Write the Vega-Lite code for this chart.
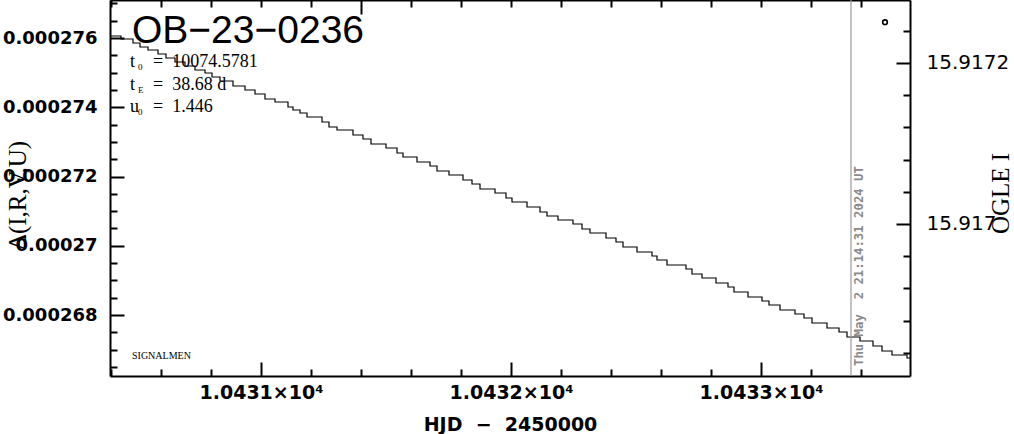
{
  "$schema": "https://vega.github.io/schema/vega-lite/v6.json",
  "width": 800,
  "height": 376,
  "autosize": {"type": "none"},
  "padding": {"left": 110, "top": 0, "right": 104, "bottom": 58},
  "background": "white",
  "config": {
    "view": {"stroke": null},
    "axis": {"grid": false, "labelOverlap": false, "labelFlush": false, "labelBound": false, "domainColor": "black", "domainWidth": 2, "tickColor": "black", "tickWidth": 2, "labelColor": "black", "titleColor": "black"}
  },
  "datasets": {
    "params": [
      {"hjd": 10430.476, "d": 0.0002751626, "sym": "t", "sub": "0", "txt": "=\u00a0 10074.5781"},
      {"hjd": 10430.476, "d": 0.0002744983, "sym": "t", "sub": "E", "txt": "=\u00a0 38.68\u00a0d"},
      {"hjd": 10430.476, "d": 0.0002738629, "sym": "u", "sub": "0", "txt": "=\u00a0 1.446"}
    ]
  },
  "resolve": {"scale": {"x": "independent", "y": "independent"}, "axis": {"x": "independent", "y": "independent"}},
  "layer": [
    {
      "data": {"values": [
        {"hjd": 10430.396, "d": 0.0002760578}, {"hjd": 10430.440, "d": 0.0002759712}, {"hjd": 10430.488, "d": 0.0002758557},
        {"hjd": 10430.516, "d": 0.0002757401}, {"hjd": 10430.548, "d": 0.0002756535}, {"hjd": 10430.588, "d": 0.0002755380},
        {"hjd": 10430.620, "d": 0.0002754225}, {"hjd": 10430.656, "d": 0.0002753069}, {"hjd": 10430.696, "d": 0.0002751914},
        {"hjd": 10430.736, "d": 0.0002750759}, {"hjd": 10430.776, "d": 0.0002749893}, {"hjd": 10430.804, "d": 0.0002748737},
        {"hjd": 10430.836, "d": 0.0002747582}, {"hjd": 10430.888, "d": 0.0002746138}, {"hjd": 10430.936, "d": 0.0002744983},
        {"hjd": 10430.976, "d": 0.0002743828}, {"hjd": 10431.016, "d": 0.0002742384}, {"hjd": 10431.056, "d": 0.0002741517},
        {"hjd": 10431.108, "d": 0.0002740073}, {"hjd": 10431.128, "d": 0.0002739207}, {"hjd": 10431.156, "d": 0.0002738341},
        {"hjd": 10431.184, "d": 0.0002737185}, {"hjd": 10431.244, "d": 0.0002735741}, {"hjd": 10431.272, "d": 0.0002734297},
        {"hjd": 10431.304, "d": 0.0002733431}, {"hjd": 10431.368, "d": 0.0002731987}, {"hjd": 10431.408, "d": 0.0002730832},
        {"hjd": 10431.440, "d": 0.0002729388}, {"hjd": 10431.500, "d": 0.0002728233}, {"hjd": 10431.544, "d": 0.0002726789},
        {"hjd": 10431.568, "d": 0.0002725633}, {"hjd": 10431.624, "d": 0.0002724189}, {"hjd": 10431.676, "d": 0.0002723034},
        {"hjd": 10431.704, "d": 0.0002721590}, {"hjd": 10431.752, "d": 0.0002720435}, {"hjd": 10431.808, "d": 0.0002718991},
        {"hjd": 10431.844, "d": 0.0002717836}, {"hjd": 10431.876, "d": 0.0002716392}, {"hjd": 10431.936, "d": 0.0002715237},
        {"hjd": 10431.980, "d": 0.0002713793}, {"hjd": 10432.004, "d": 0.0002712637}, {"hjd": 10432.064, "d": 0.0002711193},
        {"hjd": 10432.116, "d": 0.0002709749}, {"hjd": 10432.144, "d": 0.0002708594}, {"hjd": 10432.188, "d": 0.0002707439},
        {"hjd": 10432.248, "d": 0.0002706284}, {"hjd": 10432.284, "d": 0.0002704840}, {"hjd": 10432.316, "d": 0.0002703685},
        {"hjd": 10432.380, "d": 0.0002702241}, {"hjd": 10432.420, "d": 0.0002701085}, {"hjd": 10432.448, "d": 0.0002699641},
        {"hjd": 10432.504, "d": 0.0002698197}, {"hjd": 10432.564, "d": 0.0002697042}, {"hjd": 10432.584, "d": 0.0002695887},
        {"hjd": 10432.624, "d": 0.0002694443}, {"hjd": 10432.700, "d": 0.0002693288}, {"hjd": 10432.724, "d": 0.0002691844},
        {"hjd": 10432.764, "d": 0.0002690689}, {"hjd": 10432.820, "d": 0.0002689245}, {"hjd": 10432.868, "d": 0.0002688089},
        {"hjd": 10432.892, "d": 0.0002686645}, {"hjd": 10432.948, "d": 0.0002685201}, {"hjd": 10433.004, "d": 0.0002684046},
        {"hjd": 10433.032, "d": 0.0002682891}, {"hjd": 10433.076, "d": 0.0002681447}, {"hjd": 10433.136, "d": 0.0002680292},
        {"hjd": 10433.172, "d": 0.0002679137}, {"hjd": 10433.204, "d": 0.0002677693}, {"hjd": 10433.264, "d": 0.0002676249},
        {"hjd": 10433.312, "d": 0.0002675093}, {"hjd": 10433.344, "d": 0.0002673649}, {"hjd": 10433.396, "d": 0.0002672494},
        {"hjd": 10433.448, "d": 0.0002671050}, {"hjd": 10433.484, "d": 0.0002669606}, {"hjd": 10433.524, "d": 0.0002668451},
        {"hjd": 10433.584, "d": 0.0002667585}, {"hjd": 10433.596, "d": 0.0002667585}
      ]},
      "mark": {"type": "line", "interpolate": "step-after", "color": "black", "strokeWidth": 1.2, "clip": true},
      "encoding": {
        "x": {
          "field": "hjd", "type": "quantitative",
          "scale": {"domain": [10430.396, 10433.596], "nice": false, "zero": false},
          "axis": {
            "orient": "bottom",
            "values": [10430.4, 10430.6, 10430.8, 10431, 10431.2, 10431.4, 10431.6, 10431.8, 10432, 10432.2, 10432.4, 10432.6, 10432.8, 10433, 10433.2, 10433.4],
            "tickSize": {"condition": {"test": "abs(datum.value - round(datum.value)) < 0.001", "value": -14}, "value": -7},
            "labelExpr": "abs(datum.value - round(datum.value)) < 0.001 ? format(datum.value/10000, '.4f') + '×10⁴' : ''",
            "labelFont": "DejaVu Sans", "labelFontWeight": "bold", "labelFontSize": 19, "labelPadding": 21,
            "title": "HJD\u00a0 −\u00a0 2450000", "titleFont": "DejaVu Sans", "titleFontWeight": "bold", "titleFontSize": 19,
            "titleX": 400, "titleY": 54, "titleBaseline": "alphabetic", "titleAlign": "center"
          }
        },
        "y": {
          "field": "d", "type": "quantitative",
          "scale": {"domain": [0.0002662386, 0.0002770975], "nice": false, "zero": false},
          "axis": {
            "orient": "left",
            "values": [0.0002665, 0.000267, 0.0002675, 0.000268, 0.0002685, 0.000269, 0.0002695, 0.00027, 0.0002705, 0.000271, 0.0002715, 0.000272, 0.0002725, 0.000273, 0.0002735, 0.000274, 0.0002745, 0.000275, 0.0002755, 0.000276, 0.0002765, 0.000277],
            "tickSize": {"condition": {"test": "abs(datum.value*500000 - round(datum.value*500000)) < 0.01", "value": -14}, "value": -7},
            "labelExpr": "abs(datum.value*500000 - round(datum.value*500000)) < 0.01 ? format(datum.value, '.6~f') : ''",
            "labelFont": "DejaVu Sans", "labelFontWeight": "bold", "labelFontSize": 18, "labelPadding": 27,
            "title": "Δ(I,R,V,U)", "titleFont": "Liberation Serif", "titleFontWeight": "normal", "titleFontSize": 25,
            "titleX": -93, "titleY": 195, "titleAngle": 270, "titleAlign": "center", "titleBaseline": "middle"
          }
        }
      }
    },
    {
      "data": {"values": [{"hjd": 10433.36}]},
      "mark": {"type": "rule", "color": "#9a9a9a", "strokeWidth": 1.2},
      "encoding": {
        "x": {"field": "hjd", "type": "quantitative", "scale": {"domain": [10430.396, 10433.596], "nice": false, "zero": false}, "axis": null}
      }
    },
    {
      "data": {"values": [{"hjd": 10433.392, "d": 0.0002665275, "label": "Thu May\u00a0 2 21:14:31 2024 UT"}]},
      "mark": {"type": "text", "angle": 270, "align": "left", "baseline": "middle", "font": "DejaVu Sans Mono", "fontWeight": "bold", "fontSize": 12.3, "color": "#8a8a8a"},
      "encoding": {
        "x": {"field": "hjd", "type": "quantitative", "scale": {"domain": [10430.396, 10433.596], "nice": false, "zero": false}, "axis": null},
        "y": {"field": "d", "type": "quantitative", "scale": {"domain": [0.0002662386, 0.0002770975], "nice": false, "zero": false}, "axis": null},
        "text": {"field": "label"}
      }
    },
    {
      "data": {"values": [{"hjd": 10430.484, "d": 0.0002758557, "label": "OB−23−0236"}]},
      "mark": {"type": "text", "align": "left", "baseline": "alphabetic", "font": "Liberation Sans", "fontSize": 39, "color": "black"},
      "encoding": {
        "x": {"field": "hjd", "type": "quantitative", "scale": {"domain": [10430.396, 10433.596], "nice": false, "zero": false}, "axis": null},
        "y": {"field": "d", "type": "quantitative", "scale": {"domain": [0.0002662386, 0.0002770975], "nice": false, "zero": false}, "axis": null},
        "text": {"field": "label"}
      }
    },
    {
      "data": {"values": [{"hjd": 10430.484, "d": 0.0002667296, "label": "SIGNALMEN"}]},
      "mark": {"type": "text", "align": "left", "baseline": "alphabetic", "font": "Liberation Serif", "fontSize": 10, "color": "black"},
      "encoding": {
        "x": {"field": "hjd", "type": "quantitative", "scale": {"domain": [10430.396, 10433.596], "nice": false, "zero": false}, "axis": null},
        "y": {"field": "d", "type": "quantitative", "scale": {"domain": [0.0002662386, 0.0002770975], "nice": false, "zero": false}, "axis": null},
        "text": {"field": "label"}
      }
    },
    {
      "data": {"name": "params"},
      "mark": {"type": "text", "align": "left", "baseline": "alphabetic", "font": "Liberation Serif", "fontSize": 18, "color": "black"},
      "encoding": {
        "x": {"field": "hjd", "type": "quantitative", "scale": {"domain": [10430.396, 10433.596], "nice": false, "zero": false}, "axis": null},
        "y": {"field": "d", "type": "quantitative", "scale": {"domain": [0.0002662386, 0.0002770975], "nice": false, "zero": false}, "axis": null},
        "text": {"field": "sym"}
      }
    },
    {
      "data": {"name": "params"},
      "mark": {"type": "text", "align": "left", "baseline": "alphabetic", "font": "Liberation Serif", "fontSize": 9, "dx": 8, "dy": 3, "color": "black"},
      "encoding": {
        "x": {"field": "hjd", "type": "quantitative", "scale": {"domain": [10430.396, 10433.596], "nice": false, "zero": false}, "axis": null},
        "y": {"field": "d", "type": "quantitative", "scale": {"domain": [0.0002662386, 0.0002770975], "nice": false, "zero": false}, "axis": null},
        "text": {"field": "sub"}
      }
    },
    {
      "data": {"name": "params"},
      "mark": {"type": "text", "align": "left", "baseline": "alphabetic", "font": "Liberation Serif", "fontSize": 18, "dx": 23, "color": "black"},
      "encoding": {
        "x": {"field": "hjd", "type": "quantitative", "scale": {"domain": [10430.396, 10433.596], "nice": false, "zero": false}, "axis": null},
        "y": {"field": "d", "type": "quantitative", "scale": {"domain": [0.0002662386, 0.0002770975], "nice": false, "zero": false}, "axis": null},
        "text": {"field": "txt"}
      }
    },
    {
      "data": {"values": [{"hjd": 10433.496, "ogle": 15.9172507}]},
      "mark": {"type": "point", "shape": "circle", "filled": false, "color": "black", "strokeWidth": 1.6, "size": 22, "opacity": 1},
      "encoding": {
        "x": {
          "field": "hjd", "type": "quantitative",
          "scale": {"domain": [10430.396, 10433.596], "nice": false, "zero": false},
          "axis": {
            "orient": "top",
            "values": [10430.4, 10430.6, 10430.8, 10431, 10431.2, 10431.4, 10431.6, 10431.8, 10432, 10432.2, 10432.4, 10432.6, 10432.8, 10433, 10433.2, 10433.4],
            "tickSize": {"condition": {"test": "abs(datum.value - 10431.4) < 0.001", "value": -14}, "value": -7},
            "labels": false, "title": null
          }
        },
        "y": {
          "field": "ogle", "type": "quantitative",
          "scale": {"domain": [15.91681118, 15.91727826], "nice": false, "zero": false},
          "axis": {
            "orient": "right",
            "values": [15.91684, 15.91688, 15.91692, 15.91696, 15.917, 15.91704, 15.91708, 15.91712, 15.91716, 15.9172, 15.91724],
            "tickSize": {"condition": {"test": "abs(datum.value*5000 - round(datum.value*5000)) < 0.01", "value": -14}, "value": -7},
            "labelExpr": "abs(datum.value*5000 - round(datum.value*5000)) < 0.01 ? format(datum.value, '.4~f') : ''",
            "labelFont": "DejaVu Sans", "labelFontWeight": "normal", "labelFontSize": 20, "labelPadding": 30,
            "title": "OGLE I", "titleFont": "Liberation Serif", "titleFontWeight": "normal", "titleFontSize": 25,
            "titleX": 90, "titleY": 193, "titleAngle": 270, "titleAlign": "center", "titleBaseline": "middle"
          }
        }
      }
    }
  ]
}
